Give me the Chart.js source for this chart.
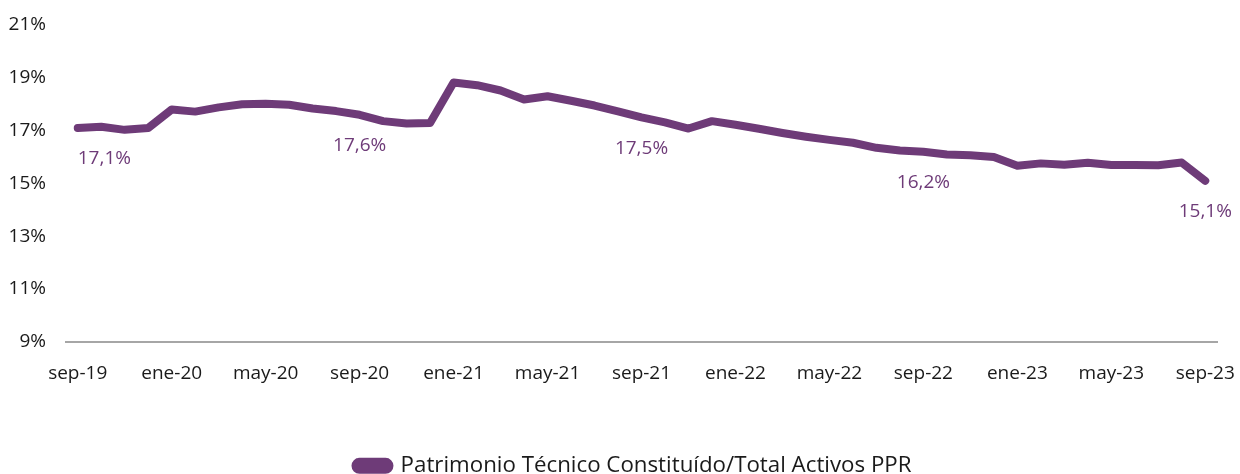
<!DOCTYPE html>
<html>
<head>
<meta charset="utf-8">
<script src="https://cdn.jsdelivr.net/npm/chart.js@4.4.1/dist/chart.umd.min.js"></script>
<style>
  html, body { margin: 0; padding: 0; background: #ffffff; }
  #wrap { width: 1240px; height: 474px; position: relative; }
</style>
</head>
<body>
<div id="wrap"><canvas id="chart" width="1240" height="474"></canvas></div>
<script>
// Monthly periods, sep-19 .. sep-23
const months = [
  'sep-19','oct-19','nov-19','dic-19','ene-20','feb-20','mar-20','abr-20','may-20','jun-20','jul-20','ago-20',
  'sep-20','oct-20','nov-20','dic-20','ene-21','feb-21','mar-21','abr-21','may-21','jun-21','jul-21','ago-21',
  'sep-21','oct-21','nov-21','dic-21','ene-22','feb-22','mar-22','abr-22','may-22','jun-22','jul-22','ago-22',
  'sep-22','oct-22','nov-22','dic-22','ene-23','feb-23','mar-23','abr-23','may-23','jun-23','jul-23','ago-23',
  'sep-23'
];

// Patrimonio Técnico Constituído / Total Activos PPR (%)
const ratio = [
  17.1, 17.15, 17.03, 17.1, 17.8, 17.72, 17.88, 18.0, 18.02, 17.98, 17.84, 17.74,
  17.6, 17.36, 17.27, 17.29, 18.82, 18.72, 18.52, 18.18, 18.3, 18.13, 17.95, 17.73,
  17.5, 17.31, 17.08, 17.36, 17.22, 17.07, 16.91, 16.77, 16.65, 16.54, 16.35, 16.25,
  16.2, 16.1, 16.07, 16.0, 15.67, 15.76, 15.71, 15.78, 15.7, 15.7, 15.69, 15.79,
  15.1
];

// Points that carry a value label
const labelledIdx = [0, 12, 24, 36, 48];

const yTicks = [9, 11, 13, 15, 17, 19, 21];

const seriesName = 'Patrimonio Técnico Constituído/Total Activos PPR';
const purple = '#6e3b78';
const FONT = '"Open Sans", "Noto Sans", sans-serif';

const valueLabels = {
  id: 'valueLabels',
  afterDatasetsDraw(chart) {
    const meta = chart.getDatasetMeta(0);
    const ctx = chart.ctx;
    ctx.save();
    ctx.font = '19px ' + FONT;
    ctx.fillStyle = purple;
    ctx.textBaseline = 'middle';
    labelledIdx.forEach((i, k) => {
      const pt = meta.data[i];
      const txt = ratio[i].toFixed(1).replace('.', ',') + '%';
      ctx.textAlign = k === 0 ? 'left' : 'center';
      ctx.fillText(txt, pt.x, pt.y + 31);
    });
    ctx.restore();
  }
};

new Chart(document.getElementById('chart'), {
  type: 'line',
  data: {
    labels: months,
    datasets: [{
      label: seriesName,
      data: ratio,
      borderColor: purple,
      backgroundColor: purple,
      borderWidth: 8,
      pointRadius: 0,
      tension: 0,
      borderCapStyle: 'round',
      borderJoinStyle: 'round'
    }]
  },
  options: {
    responsive: false,
    animation: false,
    layout: { padding: { top: 25, right: -27, left: 0, bottom: -13 } },
    scales: {
      x: {
        offset: true,
        grid: { display: false, drawTicks: false },
        border: { display: true, color: '#a6a6a6', width: 2 },
        afterFit: (s) => { s.height += 49; s.paddingRight = 23; s.paddingLeft = 0; },
        ticks: {
          autoSkip: false,
          maxRotation: 0,
          padding: 20,
          color: '#1a1a1a',
          font: { family: FONT, size: 19 },
          callback: (v, i) => (i % 4 === 0 ? months[i] : null)
        }
      },
      y: {
        min: 9,
        max: 21,
        afterBuildTicks: (s) => { s.ticks = yTicks.map(v => ({ value: v })); },
        afterFit: (s) => { s.width = 66; s.paddingTop = 0; s.paddingBottom = 0; },
        grid: { display: false, drawTicks: false },
        border: { display: false },
        ticks: {
          padding: 20,
          color: '#1a1a1a',
          font: { family: FONT, size: 19 },
          callback: (v) => v + '%'
        }
      }
    },
    plugins: {
      legend: {
        position: 'bottom',
        labels: {
          boxWidth: 34,
          boxHeight: 8,
          useBorderRadius: true,
          borderRadius: 4,
          padding: 1,
          color: '#1a1a1a',
          font: { family: FONT, size: 22.3, lineHeight: 1 }
        }
      },
      tooltip: { enabled: false }
    }
  },
  plugins: [valueLabels]
});
</script>
</body>
</html>
